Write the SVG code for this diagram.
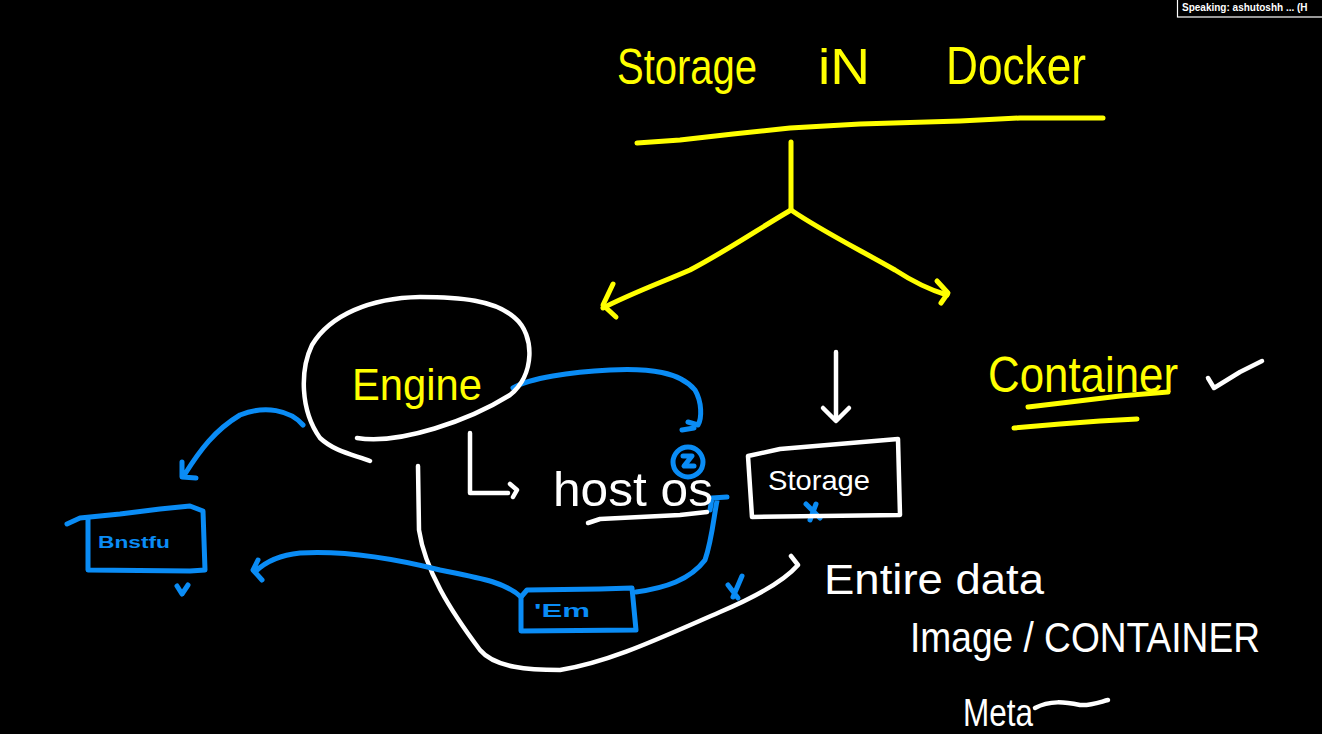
<svg xmlns="http://www.w3.org/2000/svg" width="1322" height="734" viewBox="0 0 1322 734">
<style>
.y{fill:none;stroke:#ffff00;stroke-width:5;stroke-linecap:round;stroke-linejoin:round}
.w{fill:none;stroke:#ffffff;stroke-width:4.5;stroke-linecap:round;stroke-linejoin:round}
.b{fill:none;stroke:#0a8cf5;stroke-width:5;stroke-linecap:round;stroke-linejoin:round}
.ty{fill:#ffff00;font-family:"Liberation Sans",Arial,sans-serif}
.tw{fill:#ffffff;font-family:"Liberation Sans",Arial,sans-serif}
.tb{fill:#0a8cf5;font-family:"Liberation Sans",Arial,sans-serif;font-weight:bold}
</style>
<rect width="1322" height="734" fill="#000"/>
<g id="badge">
<rect x="1177.5" y="-1" width="150" height="18" fill="#000" stroke="#fff" stroke-width="1.2"/>
<text x="1182" y="11" class="tw" font-size="10" font-weight="bold">Speaking: ashutoshh ... (H</text>
</g>
<g id="title">
<text x="617" y="84" class="ty" font-size="50" textLength="140" lengthAdjust="spacingAndGlyphs">Storage</text>
<text x="818" y="84" class="ty" font-size="50" textLength="52" lengthAdjust="spacingAndGlyphs">iN</text>
<text x="946" y="84" class="ty" font-size="54" textLength="140" lengthAdjust="spacingAndGlyphs">Docker</text>
<path class="y" d="M637,143 L680,140 L733,134 L790,128 L860,124 L960,121 L1020,118 L1103,118"/>
</g>
<g id="connectors">
<path class="y" d="M791,142 L791,210"/>
<path class="y" d="M791,210 C760,228 728,250 690,270 C660,283 630,294 603,308"/>
<path class="y" d="M613,284 L603,305 L616,317"/>
<path class="y" d="M791,210 C820,230 860,250 895,270 C915,283 930,290 947,295"/>
<path class="y" d="M937,281 L948,293 L941,303"/>
<path class="w" d="M836,352 L836,420 M823,408 L836,421 L849,408"/>
<path class="w" d="M470,433 L470,493 L508,493 M510,484 L517,490 L513,497"/>
<path class="w" d="M418,466 L419,530 C425,570 450,610 480,650 C495,668 530,670 560,670 C610,662 660,638 720,612 C760,595 785,580 798,565 L791,556"/>
<path class="b" d="M303,425 C290,410 265,405 240,415 C215,430 200,450 185,474 M182,462 L182,477 L196,478"/>
<path class="b" d="M521,597 C505,582 480,578 440,570 C400,560 350,550 300,553 C280,555 265,562 255,572 M258,560 L253,570 L262,580"/>
<path class="b" d="M636,592 C665,588 690,580 705,560 C712,540 714,515 717,501 M710,510 L712,498 L727,497"/>
<path class="b" d="M513,388 C530,378 570,372 610,370 C650,368 680,372 695,390 C702,402 702,418 698,425 L688,422"/>
<path class="b" d="M728,585 L738,598 M742,576 L733,597"/>
<path class="b" d="M806,504 L820,518 M816,504 L810,520"/>
</g>
<g id="engine">
<path class="w" d="M357,438 C400,445 470,420 510,395 C535,375 535,335 515,318 C495,300 460,297 420,297 C370,298 330,315 312,345 C300,370 300,410 320,438 C335,452 355,455 370,461"/>
<text x="352" y="400" class="ty" font-size="44" textLength="130" lengthAdjust="spacingAndGlyphs">Engine</text>
</g>
<g id="hostos">
<text x="553" y="506" class="tw" font-size="48" textLength="160" lengthAdjust="spacingAndGlyphs">host os</text>
<path class="w" d="M588,523 L600,519 L680,515 L707,512"/>
<circle cx="688" cy="462" r="15" class="b"/>
<path class="b" d="M683,456 L692,456 L684,466 L694,466 M682,430 L694,428"/>
</g>
<g id="storage">
<path class="w" d="M748,456 L780,449 L898,439 L900,515 L752,517 Z"/>
<text x="768" y="490" class="tw" font-size="28" textLength="102" lengthAdjust="spacingAndGlyphs">Storage</text>
</g>
<g id="container">
<text x="988" y="392" class="ty" font-size="50" textLength="190" lengthAdjust="spacingAndGlyphs">Container</text>
<path class="y" d="M1028,407 L1070,402 L1120,396 L1168,392"/>
<path class="y" d="M1014,428 L1060,424 L1100,421 L1137,419"/>
<path class="w" d="M1208,378 L1214,388 L1240,372 L1262,361"/>
</g>
<g id="box-left">
<path class="b" d="M67,524 L80,518 L120,514 L160,509 L190,506 L203,511 L205,570 L190,571 L88,570 L88,518"/>
<text x="98" y="548" class="tb" font-size="16" textLength="72" lengthAdjust="spacingAndGlyphs">Bnstfu</text>
<path class="b" d="M177,586 L182,594 L188,585"/>
</g>
<g id="box-bottom">
<path class="b" d="M521,597 L527,590 L600,589 L632,588 L636,630 L521,631 Z"/>
<text x="534" y="617" class="tb" font-size="18" textLength="56" lengthAdjust="spacingAndGlyphs">'Em</text>
</g>
<g id="notes">
<text x="824" y="594" class="tw" font-size="42" textLength="220" lengthAdjust="spacingAndGlyphs">Entire data</text>
<text x="910" y="652" class="tw" font-size="42" textLength="350" lengthAdjust="spacingAndGlyphs">Image / CONTAINER</text>
<text x="963" y="726" class="tw" font-size="38" textLength="70" lengthAdjust="spacingAndGlyphs">Meta</text>
<path class="w" d="M1035,708 C1050,700 1065,702 1080,705 C1090,706 1100,702 1108,700"/>
</g>
</svg>
